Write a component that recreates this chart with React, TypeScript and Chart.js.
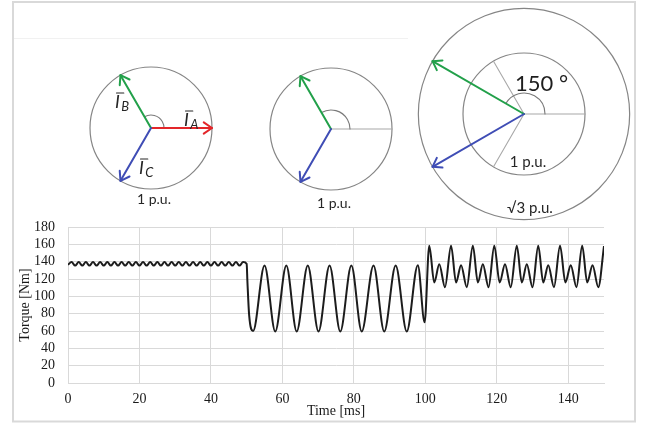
import React, { useEffect, useRef } from 'react';
import { Chart, registerables } from 'chart.js';

Chart.register(...registerables);

// ---------- Torque data ----------
const balancedTimeMs = [
  0, 1, 2, 3, 4, 5, 6, 7, 8, 9, 10, 11, 12, 13, 14, 15, 16, 17, 18, 19, 20, 21, 22, 23, 24, 25,
  26, 27, 28, 29, 30, 31, 32, 33, 34, 35, 36, 37, 38, 39, 40, 41, 42, 43, 44, 45, 46, 47, 48, 49, 50,
];
const balancedTorque = [
  136.5, 139.5, 135.5, 139.5, 135.5, 139.5, 135.5, 139.5, 135.5, 139.5, 135.5, 139.5, 135.5, 139.5,
  135.5, 139.5, 135.5, 139.5, 135.5, 139.5, 135.5, 139.5, 135.5, 139.5, 135.5, 139.5, 135.5, 139.5,
  135.5, 139.5, 135.5, 139.5, 135.5, 139.5, 135.5, 139.5, 135.5, 139.5, 135.5, 139.5, 135.5, 139.5,
  135.5, 139.5, 135.5, 139.5, 135.5, 139.5, 135.5, 139.5, 137.5,
];
const openPhaseTimeMs = [
  50.2, 50.7, 51.8, 55.0, 58.0, 61.1, 64.0, 67.1, 70.1, 73.2, 76.2, 79.3, 82.2, 85.5, 88.5, 91.7,
  94.8, 97.9, 99.8,
];
const openPhaseTorque = [
  118, 78, 60, 135.5, 59.5, 135.5, 59.5, 135.5, 59.5, 135.5, 59.5, 135.5, 59.5, 135.5, 59.5, 135.5,
  59.5, 136, 70,
];
const compensatedTimeMs = [
  101.1, 102.5, 103.9, 105.5, 107.2, 108.6, 110.0, 111.6, 113.3, 114.7, 116.1, 117.7, 119.3, 120.8,
  122.3, 123.9, 125.6, 127.0, 128.4, 130.0, 131.6, 133.0, 134.4, 136.0, 137.7, 139.2, 140.7, 142.3,
  143.9, 145.3, 146.8, 148.4, 150.0,
];
const compensatedTorque = [
  158.5, 116, 137, 110.5, 158.5, 116, 136, 110.5, 158.5, 116, 137, 110.5, 158.5, 116, 137, 110.5,
  158.5, 116, 137, 110.5, 158.5, 116, 136, 110.5, 158.5, 116, 136, 110.5, 158.5, 116, 136, 110.5,
  158,
];

const xTickValues = [0, 20, 40, 60, 80, 100, 120, 140];
const yTickValues = [0, 20, 40, 60, 80, 100, 120, 140, 160, 180];
const xAxisTitle = 'Time [ms]';
const yAxisTitle = 'Torque [Nm]';

// ---------- Phasor diagrams ----------
const diagram1Phases = ['A', 'B', 'C'];
const diagram1AnglesDeg = [0, 120, 240];
const diagram1Magnitudes = [1, 1, 1];
const diagram2Phases = ['B', 'C'];
const diagram2AnglesDeg = [120, 240];
const diagram2Magnitudes = [1, 1];
const diagram3Phases = ['B', 'C'];
const diagram3AnglesDeg = [150, 210];
const diagram3Magnitudes = [1.732, 1.732];
const diagramCaptions = ['1 p.u.', '1 p.u.', '\u221A3 p.u.'];
const innerCaption = '1 p.u.';
const angleCaption = '150 \u00B0';

const PHASE_COLORS: Record<string, string> = { A: '#e3262a', B: '#22a04a', C: '#3f4db5' };
const UNIT_PX = 61;
const D2R = Math.PI / 180;

function arrow(ctx: CanvasRenderingContext2D, cx: number, cy: number, angDeg: number, mag: number, color: string) {
  const a = angDeg * D2R;
  const len = mag * UNIT_PX;
  const tx = cx + len * Math.cos(a);
  const ty = cy - len * Math.sin(a);
  ctx.strokeStyle = color;
  ctx.lineWidth = 2;
  ctx.lineCap = 'round';
  ctx.lineJoin = 'round';
  ctx.beginPath();
  ctx.moveTo(cx, cy);
  ctx.lineTo(tx, ty);
  ctx.stroke();
  const back = Math.atan2(cy - ty, cx - tx);
  const head = 10;
  const spread = 0.6;
  ctx.beginPath();
  ctx.moveTo(tx + head * Math.cos(back + spread), ty + head * Math.sin(back + spread));
  ctx.lineTo(tx, ty);
  ctx.lineTo(tx + head * Math.cos(back - spread), ty + head * Math.sin(back - spread));
  ctx.stroke();
}

function circle(ctx: CanvasRenderingContext2D, cx: number, cy: number, r: number) {
  ctx.strokeStyle = '#858585';
  ctx.lineWidth = 1.2;
  ctx.beginPath();
  ctx.arc(cx, cy, r, 0, Math.PI * 2);
  ctx.stroke();
}

function grayRay(ctx: CanvasRenderingContext2D, cx: number, cy: number, angDeg: number, r: number) {
  ctx.strokeStyle = '#a8a8a8';
  ctx.lineWidth = 1.1;
  ctx.beginPath();
  ctx.moveTo(cx, cy);
  ctx.lineTo(cx + r * Math.cos(angDeg * D2R), cy - r * Math.sin(angDeg * D2R));
  ctx.stroke();
}

function angleArc(ctx: CanvasRenderingContext2D, cx: number, cy: number, r: number, angDeg: number) {
  ctx.strokeStyle = '#7a7a7a';
  ctx.lineWidth = 1.1;
  ctx.beginPath();
  ctx.arc(cx, cy, r, -angDeg * D2R, 0);
  ctx.stroke();
}

function phasorName(ctx: CanvasRenderingContext2D, x: number, y: number, sub: string) {
  ctx.fillStyle = '#262626';
  ctx.strokeStyle = '#262626';
  ctx.textAlign = 'left';
  ctx.textBaseline = 'alphabetic';
  ctx.font = 'italic 18px Lato';
  ctx.fillText('I', x, y);
  const w = ctx.measureText('I').width;
  ctx.lineWidth = 1.1;
  ctx.beginPath();
  ctx.moveTo(x + 1.5, y - 15);
  ctx.lineTo(x + w + 4, y - 15);
  ctx.stroke();
  ctx.font = 'italic 13px Lato';
  ctx.fillText(sub, x + w + 1.5, y + 3);
}

function caption(ctx: CanvasRenderingContext2D, text: string, x: number, y: number, size: number) {
  ctx.fillStyle = '#262626';
  ctx.font = `${size}px Lato`;
  ctx.textAlign = 'center';
  ctx.textBaseline = 'middle';
  ctx.fillText(text, x, y);
}

const figurePlugin = {
  id: 'figureDecor',
  beforeDraw(chart: any) {
    const ctx = chart.ctx as CanvasRenderingContext2D;
    ctx.save();
    ctx.fillStyle = '#ffffff';
    ctx.fillRect(0, 0, chart.width, chart.height);
    ctx.restore();
  },
  afterDraw(chart: any) {
    const ctx = chart.ctx as CanvasRenderingContext2D;
    ctx.save();
    // outer frame
    ctx.strokeStyle = '#d9d9d9';
    ctx.lineWidth = 2;
    ctx.strokeRect(13, 2, 622, 419.5);
    // faint separator line
    ctx.strokeStyle = '#f1f1f1';
    ctx.lineWidth = 1;
    ctx.beginPath();
    ctx.moveTo(14, 38.5);
    ctx.lineTo(408, 38.5);
    ctx.stroke();

    // Diagram 1: balanced
    const c1x = 151, c1y = 128;
    circle(ctx, c1x, c1y, UNIT_PX);
    angleArc(ctx, c1x, c1y, 13, 120);
    diagram1Phases.forEach((p, i) => arrow(ctx, c1x, c1y, diagram1AnglesDeg[i], diagram1Magnitudes[i], PHASE_COLORS[p]));
    phasorName(ctx, 115, 108, diagram1Phases[1]);
    phasorName(ctx, 184, 126, diagram1Phases[0]);
    phasorName(ctx, 139, 174, diagram1Phases[2]);
    caption(ctx, diagramCaptions[0], 154, 199, 14);

    // Diagram 2: open phase A
    const c2x = 331, c2y = 129;
    circle(ctx, c2x, c2y, UNIT_PX);
    grayRay(ctx, c2x, c2y, 0, UNIT_PX);
    angleArc(ctx, c2x, c2y, 19, 120);
    diagram2Phases.forEach((p, i) => arrow(ctx, c2x, c2y, diagram2AnglesDeg[i], diagram2Magnitudes[i], PHASE_COLORS[p]));
    caption(ctx, diagramCaptions[1], 334, 203, 14);

    // Diagram 3: compensated
    const c3x = 524, c3y = 114;
    circle(ctx, c3x, c3y, UNIT_PX * Math.sqrt(3));
    circle(ctx, c3x, c3y, UNIT_PX);
    [0, 120, 240].forEach((a) => grayRay(ctx, c3x, c3y, a, UNIT_PX));
    angleArc(ctx, c3x, c3y, 21, 150);
    diagram3Phases.forEach((p, i) => arrow(ctx, c3x, c3y, diagram3AnglesDeg[i], diagram3Magnitudes[i], PHASE_COLORS[p]));
    ctx.fillStyle = '#1e1e1e';
    ctx.font = '22px Lato';
    ctx.textAlign = 'left';
    ctx.textBaseline = 'middle';
    ctx.fillText(angleCaption, 515, 84);
    caption(ctx, innerCaption, 528, 162, 15);
    caption(ctx, diagramCaptions[2], 530, 208, 15);
    ctx.restore();
  },
};

const axisFont = { family: '"Liberation Serif", "Times New Roman", serif', size: 14 };
const GRID = '#d9d9d9';

export default function App() {
  const ref = useRef<HTMLCanvasElement>(null);

  useEffect(() => {
    const times = [...balancedTimeMs, ...openPhaseTimeMs, ...compensatedTimeMs];
    const torque = [...balancedTorque, ...openPhaseTorque, ...compensatedTorque];
    const points = times.map((t, i) => ({ x: t, y: torque[i] }));

    const chart = new Chart(ref.current as HTMLCanvasElement, {
      type: 'line',
      data: {
        datasets: [
          {
            label: 'Torque',
            data: points,
            borderColor: '#1c1c1c',
            borderWidth: 2,
            pointRadius: 0,
            fill: false,
            cubicInterpolationMode: 'monotone',
          },
        ],
      },
      options: {
        responsive: false,
        animation: false,
        devicePixelRatio: 1,
        events: [],
        layout: { padding: { left: 0, top: 227, right: 49, bottom: 0 } },
        plugins: { legend: { display: false }, tooltip: { enabled: false } },
        scales: {
          x: {
            type: 'linear',
            min: 0,
            max: 150,
            afterBuildTicks: (s: any) => {
              s.ticks = xTickValues.map((v) => ({ value: v }));
            },
            afterFit: (s: any) => {
              s.height = 40;
            },
            ticks: { font: axisFont, color: '#1a1a1a', padding: 8, maxRotation: 0, autoSkip: false },
            grid: { color: GRID, lineWidth: 1, drawTicks: false },
            border: { color: GRID, width: 1 },
            title: {
              display: true,
              text: xAxisTitle,
              font: axisFont,
              color: '#1a1a1a',
              padding: { top: 0, bottom: 3 },
            },
          },
          y: {
            type: 'linear',
            min: 0,
            max: 180,
            afterBuildTicks: (s: any) => {
              s.ticks = yTickValues.map((v) => ({ value: v }));
            },
            afterFit: (s: any) => {
              s.width = 68;
            },
            ticks: { font: axisFont, color: '#1a1a1a', padding: 13, autoSkip: false },
            grid: { color: GRID, lineWidth: 1, drawTicks: false },
            border: { color: GRID, width: 1 },
            title: {
              display: true,
              text: yAxisTitle,
              font: axisFont,
              color: '#1a1a1a',
              padding: { top: 16.6, bottom: 0 },
            },
          },
        },
      } as any,
      plugins: [figurePlugin],
    });
    return () => chart.destroy();
  }, []);

  return (
    <div style={{ position: 'fixed', left: 0, top: 0, width: 653, height: 423, background: '#fff' }}>
      <canvas ref={ref} width={653} height={423} style={{ display: 'block', width: 653, height: 423 }} />
    </div>
  );
}
